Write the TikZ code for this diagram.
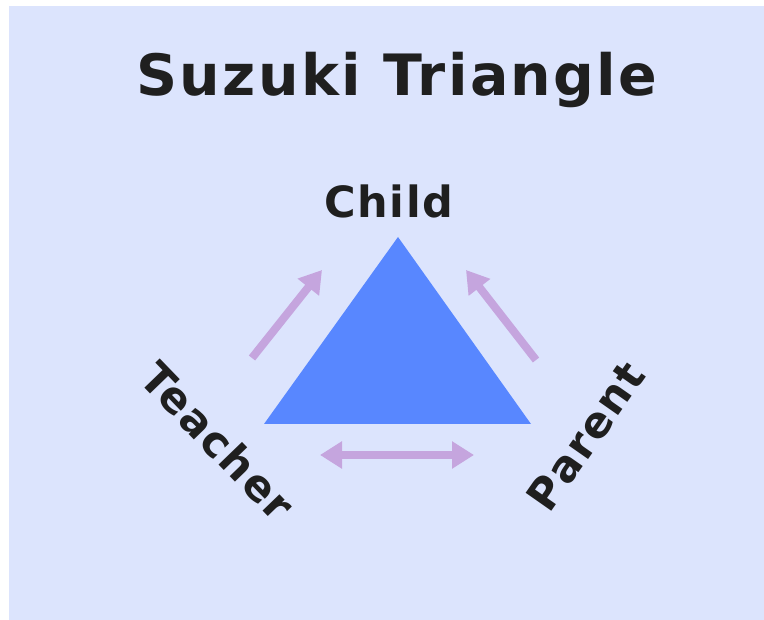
\documentclass[tikz,border=0pt]{standalone}
\usepackage{fontspec}
\setmainfont{DejaVu Sans}
\newfontfamily\lblfont{DejaVu Sans}[LetterSpace=4]
\usetikzlibrary{arrows.meta}
\definecolor{bgblue}{RGB}{220,228,253}
\definecolor{triblue}{RGB}{88,135,255}
\definecolor{arrpurple}{RGB}{197,165,222}
\definecolor{ink}{RGB}{31,31,31}
\tikzset{
  titletext/.style={font=\lblfont\bfseries\fontsize{57}{62}\selectfont, text=ink, inner sep=0pt},
  roletext/.style={font=\lblfont\bfseries\fontsize{43}{48}\selectfont, text=ink, inner sep=0pt},
  tri/.style={fill=triblue},
  relarrow/.style={draw=arrpurple, line width=8pt, -{Triangle[width=26pt,length=22pt]}},
  bothrelarrow/.style={draw=arrpurple, line width=8pt, {Triangle[width=26pt,length=22pt]}-{Triangle[width=26pt,length=22pt]}}
}
\begin{document}
\begin{tikzpicture}[x=1pt,y=-1pt]
\useasboundingbox (0,0) rectangle (764,620);
\fill[bgblue] (9,6) rectangle (764,620);
\node[titletext, anchor=base] (title) at (397,96) {Suzuki Triangle};
\node[roletext, anchor=base] (child) at (389,218) {Child};
\node[roletext, rotate=-46] (teacher) at (218,441) {Teacher};
\node[roletext, rotate=55] (parent) at (586,436) {Parent};
\coordinate (apex) at (398,237);
\coordinate (bl) at (264,424);
\coordinate (br) at (531,424);
\fill[tri] (apex) -- (bl) -- (br) -- cycle;
\coordinate (la0) at (252,358);
\coordinate (la1) at (322,270);
\coordinate (ra0) at (536,360);
\coordinate (ra1) at (466,270);
\coordinate (ba0) at (320,455);
\coordinate (ba1) at (474,455);
\draw[relarrow] (la0) -- (la1);
\draw[relarrow] (ra0) -- (ra1);
\draw[bothrelarrow] (ba0) -- (ba1);
\end{tikzpicture}
\end{document}
